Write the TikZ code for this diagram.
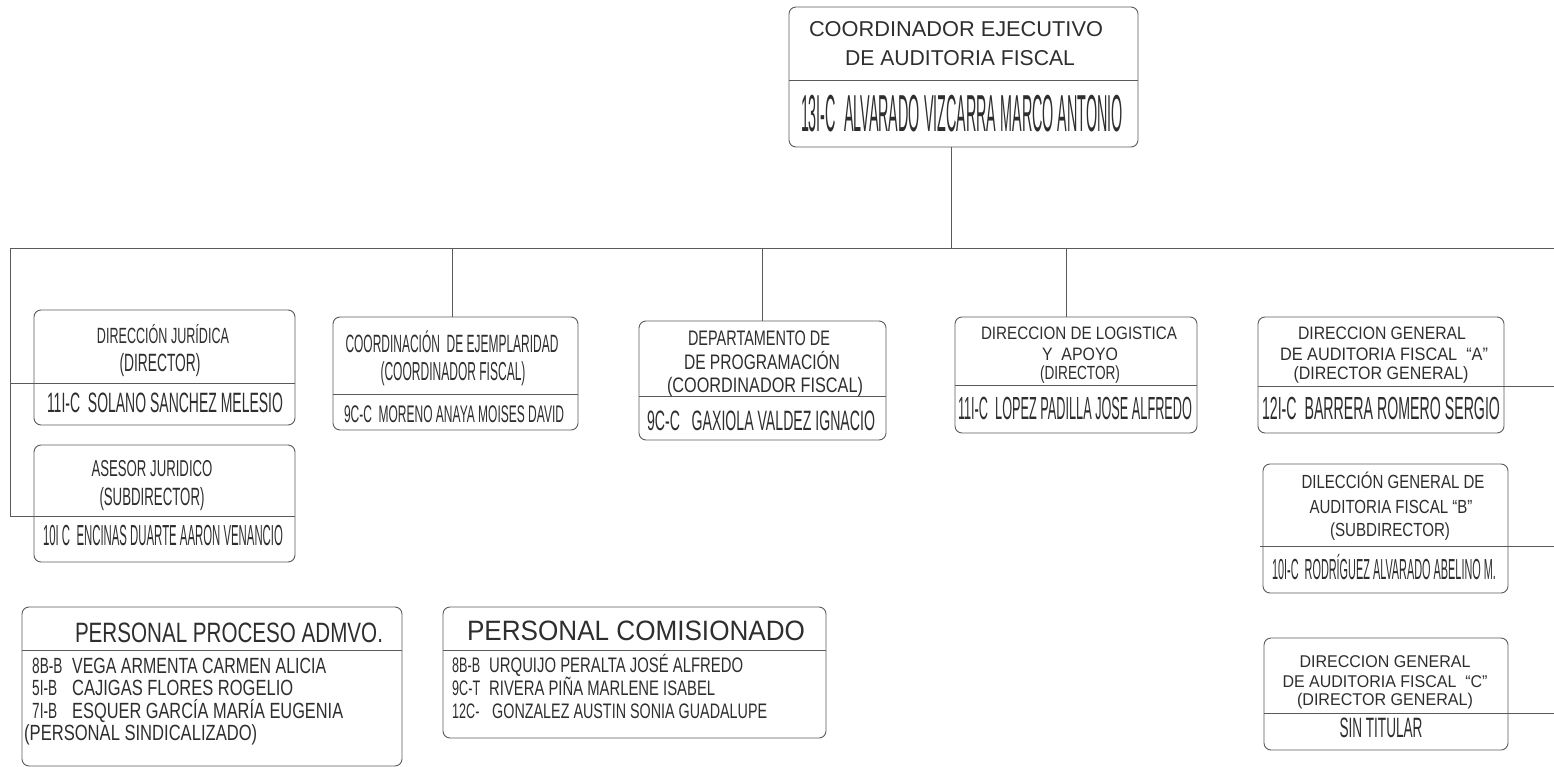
\documentclass[tikz,border=0pt]{standalone}
\usepackage{fontspec}
\setmainfont{Liberation Sans}
\usepackage{graphicx}
\definecolor{ink}{HTML}{2E2E2E}
\definecolor{rulec}{HTML}{5A5A5A}
\newcommand{\fw}[3]{\resizebox{#1pt}{\height}{\fontsize{#2}{#2}\selectfont #3}}
\newcommand{\fsc}[3]{\scalebox{#1}[1]{\fontsize{#2}{#2}\selectfont #3}}
\tikzset{
  orgbox/.style={draw=rulec, line width=0.9pt, rounded corners=7pt, inner sep=0pt, rectangle},
  ln/.style={draw=rulec, line width=0.9pt},
  tx/.style={anchor=base, inner sep=0pt, text=ink},
  txl/.style={anchor=base west, inner sep=0pt, text=ink},
}
\begin{document}
\begin{tikzpicture}[x=1pt,y=-1pt]
\useasboundingbox (0,0) rectangle (1554,767);
% boxes
\node[orgbox, minimum width=349pt, minimum height=140pt] (top) at (963.5,77) {};
\node[orgbox, minimum width=261pt, minimum height=115pt] (dj) at (164.5,367.5) {};
\node[orgbox, minimum width=261pt, minimum height=117pt] (aj) at (164.5,503.5) {};
\node[orgbox, minimum width=245pt, minimum height=113pt] (ce) at (455.5,373.5) {};
\node[orgbox, minimum width=247pt, minimum height=119pt] (dp) at (762.5,380.5) {};
\node[orgbox, minimum width=242pt, minimum height=116pt] (lg) at (1076,375) {};
\node[orgbox, minimum width=246pt, minimum height=116pt] (dga) at (1381,375) {};
\node[orgbox, minimum width=245pt, minimum height=129pt] (dgb) at (1385.5,528.5) {};
\node[orgbox, minimum width=244pt, minimum height=112pt] (dgc) at (1386,694) {};
\node[orgbox, minimum width=380pt, minimum height=159pt] (pp) at (212,686.5) {};
\node[orgbox, minimum width=383pt, minimum height=131pt] (pc) at (634.5,672.5) {};
% connectors
\coordinate (hub) at (951,248);
\coordinate (busL) at (10,248);
\coordinate (busR) at (1554,248);
\coordinate (lvB) at (10,516);
\coordinate (djd) at (10,383);
\coordinate (sce) at (452,248);
\coordinate (sdp) at (762,248);
\coordinate (slg) at (1066,248);
\draw[ln] (top.south -| hub) -- (hub);
\draw[ln] (busL) -- (busR);
\draw[ln] (busL) -- (lvB);
\draw[ln] (djd) -- (djd -| dj.east);
\draw[ln] (lvB) -- (lvB -| aj.east);
\draw[ln] (sce) -- (sce |- ce.north);
\draw[ln] (sdp) -- (sdp |- dp.north);
\draw[ln] (slg) -- (slg |- lg.north);
% dividers
\coordinate (topd) at (789,80);
\coordinate (ced) at (333,394);
\coordinate (dpd) at (639,396);
\coordinate (lgd) at (955,385);
\coordinate (dgad) at (1258,386);
\coordinate (dgbd) at (1260,546);
\coordinate (dgcd) at (1264,713);
\coordinate (ppd) at (22,650);
\coordinate (pcd) at (443,650);
\draw[ln] (topd) -- (topd -| top.east);
\draw[ln] (ced) -- (ced -| ce.east);
\draw[ln] (dpd) -- (dpd -| dp.east);
\draw[ln] (lgd) -- (lgd -| lg.east);
\draw[ln] (dgad) -- (dgad -| busR);
\draw[ln] (dgbd) -- (dgbd -| busR);
\draw[ln] (dgcd) -- (dgcd -| busR);
\draw[ln] (ppd) -- (ppd -| pp.east);
\draw[ln] (pcd) -- (pcd -| pc.east);
% top box text
\node[tx] (tA) at (956,37) {\fw{294}{21.5}{COORDINADOR EJECUTIVO}};
\node[tx] (tB) at (960,66) {\fw{230}{21.5}{DE AUDITORIA FISCAL}};
\node[tx] (tN) at (962,132) {\fw{322}{52}{13I-C\ \ ALVARADO VIZCARRA MARCO ANTONIO}};
% direccion juridica
\node[tx] (djA) at (163,343) {\fw{132}{22}{DIRECCIÓN JURÍDICA}};
\node[tx] (djB) at (160,371) {\fw{81}{25}{(DIRECTOR)}};
\node[tx] (djN) at (165,412) {\fw{236}{28}{11I-C\ \ SOLANO SANCHEZ MELESIO}};
% asesor juridico
\node[tx] (ajA) at (152,476) {\fw{121}{23}{ASESOR JURIDICO}};
\node[tx] (ajB) at (152,505) {\fw{105}{25}{(SUBDIRECTOR)}};
\node[tx] (ajN) at (163,545) {\fw{240}{29}{10I C\ \ ENCINAS DUARTE AARON VENANCIO}};
% coordinacion de ejemplaridad
\node[tx] (ceA) at (452,352) {\fw{213}{25}{COORDINACIÓN\ \ DE EJEMPLARIDAD}};
\node[tx] (ceB) at (453,380) {\fw{145}{26}{(COORDINADOR FISCAL)}};
\node[tx] (ceN) at (454,422) {\fw{220}{24}{9C-C\ \ MORENO ANAYA MOISES DAVID}};
% departamento de programacion
\node[tx] (dpA) at (759,345) {\fw{142}{21}{DEPARTAMENTO DE}};
\node[tx] (dpB) at (762,369) {\fw{156}{21}{DE PROGRAMACIÓN}};
\node[tx] (dpC) at (765,392) {\fw{196}{21}{(COORDINADOR FISCAL)}};
\node[tx] (dpN) at (761,430) {\fw{228}{28}{9C-C\ \ \ GAXIOLA VALDEZ IGNACIO}};
% logistica
\node[tx] (lgA) at (1079,339) {\fw{196}{18}{DIRECCION DE LOGISTICA}};
\node[tx] (lgB) at (1080,360) {\fw{76}{18}{Y\ \ APOYO}};
\node[tx] (lgC) at (1080,379) {\fw{80}{19}{(DIRECTOR)}};
\node[tx] (lgN) at (1075,419) {\fw{234}{32}{11I-C\ \ LOPEZ PADILLA JOSE ALFREDO}};
% DG A
\node[tx] (gaA) at (1382,339) {\fw{168}{18}{DIRECCION GENERAL}};
\node[tx] (gaB) at (1384,360) {\fw{208}{18}{DE AUDITORIA FISCAL\ \ “A”}};
\node[tx] (gaC) at (1381,379) {\fw{175}{18}{(DIRECTOR GENERAL)}};
\node[tx] (gaN) at (1381,419) {\fw{238}{32}{12I-C\ \ BARRERA ROMERO SERGIO}};
% DG B
\node[tx] (gbA) at (1393,488) {\fw{183}{19}{DILECCIÓN GENERAL DE}};
\node[tx] (gbB) at (1391,513) {\fw{163}{19}{AUDITORIA FISCAL “B”}};
\node[tx] (gbC) at (1390,536) {\fw{120}{19}{(SUBDIRECTOR)}};
\node[tx] (gbN) at (1384,579) {\fw{224}{29}{10I-C\ \ RODRÍGUEZ ALVARADO ABELINO M.}};
% DG C
\node[tx] (gcA) at (1385,667) {\fw{171}{17}{DIRECCION GENERAL}};
\node[tx] (gcB) at (1385,687) {\fw{205}{17}{DE AUDITORIA FISCAL\ \ “C”}};
\node[tx] (gcC) at (1385,705) {\fw{176}{17}{(DIRECTOR GENERAL)}};
\node[tx] (gcN) at (1381,737) {\fw{83}{28}{SIN TITULAR}};
% personal proceso admvo
\node[tx] (ppT) at (229,642) {\fw{308}{28}{PERSONAL PROCESO ADMVO.}};
\node[txl] (pp1c) at (32,673) {\fsc{0.62}{22}{8B-B}};
\node[txl] (pp1n) at (72,673) {\fw{254}{22}{VEGA ARMENTA CARMEN ALICIA}};
\node[txl] (pp2c) at (32,695) {\fsc{0.62}{22}{5I-B}};
\node[txl] (pp2n) at (72,695) {\fw{221}{22}{CAJIGAS FLORES ROGELIO}};
\node[txl] (pp3c) at (32,718) {\fsc{0.62}{22}{7I-B}};
\node[txl] (pp3n) at (72,718) {\fw{271}{22}{ESQUER GARCÍA MARÍA EUGENIA}};
\node[txl] (pp4) at (24,740) {\fw{233}{22}{(PERSONAL SINDICALIZADO)}};
% personal comisionado
\node[tx] (pcT) at (636,640) {\fw{338}{28}{PERSONAL COMISIONADO}};
\node[txl] (pc1c) at (452,672) {\fsc{0.6}{21}{8B-B}};
\node[txl] (pc1n) at (489,672) {\fw{254}{21}{URQUIJO PERALTA JOSÉ ALFREDO}};
\node[txl] (pc2c) at (452,695) {\fsc{0.6}{21}{9C-T}};
\node[txl] (pc2n) at (489,695) {\fw{226}{21}{RIVERA PIÑA MARLENE ISABEL}};
\node[txl] (pc3c) at (452,718) {\fsc{0.6}{21}{12C-}};
\node[txl] (pc3n) at (492,718) {\fw{275}{21}{GONZALEZ AUSTIN SONIA GUADALUPE}};
\end{tikzpicture}
\end{document}
